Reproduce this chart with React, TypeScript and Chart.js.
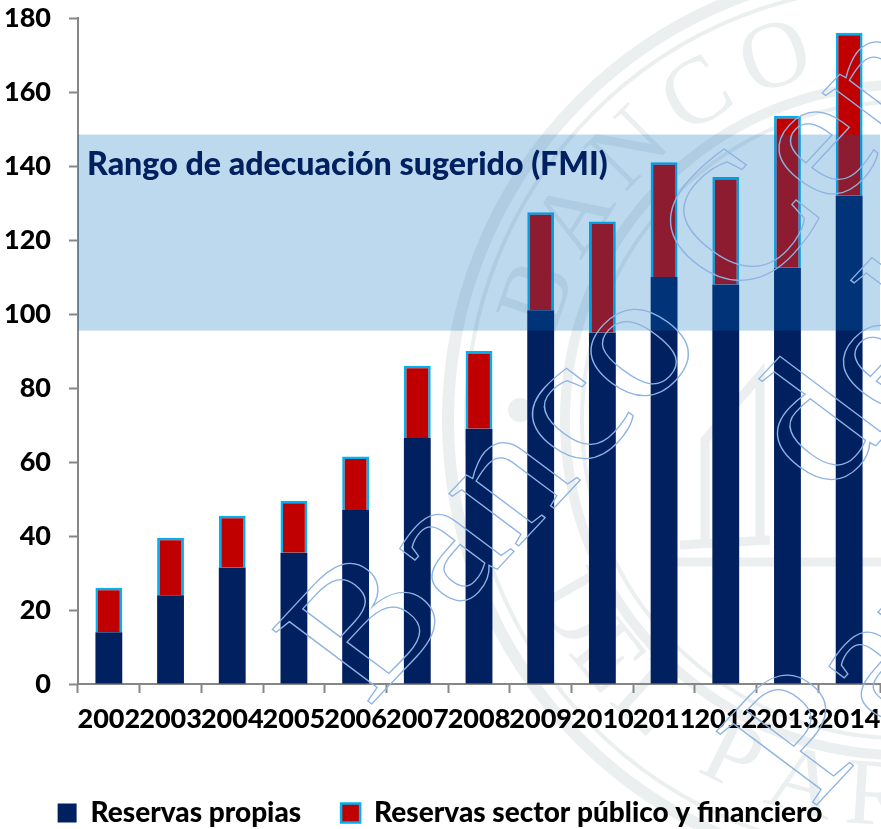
import React, { useEffect, useRef } from "react";
import { Chart, registerables } from "chart.js";

Chart.register(...registerables);

const years = ["2002","2003","2004","2005","2006","2007","2008","2009","2010","2011","2012","2013","2014"];
const reservasPropias = [14, 24, 31.5, 35.5, 47, 66.5, 69, 101, 95, 110, 108, 112.5, 132];
const reservasSector = [12, 15.5, 14, 14, 14.5, 19.5, 21, 26.5, 30, 31, 29, 41, 44];
const bandRange = [95.5, 148.5];
const bandLabel = "Rango de adecuación sugerido (FMI)";
const sealTop = "BANCO";
const sealBottom = "DELPARAGUAY";
const watermarkLines = [
  { text: "Banco Central", x: 368, y: 708 },
  { text: "del", x: 828, y: 497 },
  { text: "Paraguay", x: 812, y: 810 },
];

const FONT = "Lato";

const backdrop = {
  id: "backdrop",
  beforeDraw(chart: any) {
    const c = chart.ctx;
    c.save();
    const cx = 900, cy = 420;
    c.strokeStyle = "#EBEFF0";
    for (const [r, w] of [[452, 12], [434, 4], [335, 10], [318, 4]]) {
      c.lineWidth = w;
      c.beginPath();
      c.arc(cx, cy, r, 0, Math.PI * 2);
      c.stroke();
    }
    c.fillStyle = "#EBEFF0";
    c.font = "95px 'Liberation Serif'";
    c.textAlign = "center";
    c.textBaseline = "middle";
    [...sealTop].forEach((ch, i) => {
      const a = ((199 + i * 13) * Math.PI) / 180;
      c.save();
      c.translate(cx + 380 * Math.cos(a), cy + 380 * Math.sin(a));
      c.rotate(a + Math.PI / 2);
      c.fillText(ch, 0, 0);
      c.restore();
    });
    [...sealBottom].forEach((ch, i) => {
      const deg = i < 3 ? 150 - i * 9 : 116.5 - (i - 3) * 11.5;
      const a = (deg * Math.PI) / 180;
      c.save();
      c.translate(cx + 380 * Math.cos(a), cy + 380 * Math.sin(a));
      c.rotate(a - Math.PI / 2);
      c.fillText(ch, 0, 0);
      c.restore();
    });
    c.lineWidth = 9;
    c.beginPath();
    c.moveTo(660, 562); c.lineTo(881, 562);
    c.moveTo(705, 540); c.lineTo(705, 440); c.lineTo(760, 375); c.lineTo(760, 540);
    c.moveTo(680, 545); c.lineTo(770, 540);
    c.stroke();
    c.beginPath();
    c.arc(520, 410, 12, 0, Math.PI * 2);
    c.fill();
    c.restore();
  },
};

const band = {
  id: "band",
  afterDatasetsDraw(chart: any) {
    const c = chart.ctx;
    const y = chart.scales.y;
    const a = chart.chartArea;
    const top = y.getPixelForValue(bandRange[1]);
    const bottom = y.getPixelForValue(bandRange[0]);
    c.save();
    c.fillStyle = "rgba(0,108,188,0.26)";
    c.fillRect(a.left, top, a.right - a.left, bottom - top);
    c.fillStyle = "#002060";
    c.font = `900 32.2px ${FONT}`;
    c.textAlign = "left";
    c.textBaseline = "middle";
    c.fillText(bandLabel, a.left + 9, y.getPixelForValue(140.5));
    c.restore();
  },
  afterDraw(chart: any) {
    const c = chart.ctx;
    c.save();
    c.strokeStyle = "#8DB3E2";
    c.lineWidth = 1.3;
    c.font = "190px 'Liberation Serif'";
    c.textAlign = "left";
    c.textBaseline = "alphabetic";
    for (const l of watermarkLines) {
      c.save();
      c.transform(0.68 * 1.03, -0.73 * 1.03, 0.8, 0.6, l.x, l.y);
      c.strokeText(l.text, 0, 0);
      c.restore();
    }
    c.restore();
  },
};

export default function App() {
  const ref = useRef<HTMLCanvasElement>(null);
  useEffect(() => {
    document.body.style.margin = "0";
    const chart = new Chart(ref.current!, {
      type: "bar",
      data: {
        labels: years,
        datasets: [
          { label: "Reservas propias", data: reservasPropias, backgroundColor: "#002060", borderWidth: 0, stack: "a" },
          { label: "Reservas sector público y financiero", data: reservasSector, backgroundColor: "#C00000", borderColor: "#00B0F0", borderWidth: 2.5, stack: "a" },
        ],
      },
      options: {
        animation: false,
        responsive: false,
        layout: { padding: { top: 18, right: 1, bottom: -8, left: 0 } },
        datasets: { bar: { barPercentage: 1, categoryPercentage: 0.435 } },
        scales: {
          x: {
            stacked: true,
            afterFit: (s: any) => { s.height = 75; s.paddingLeft = 0; s.paddingRight = 0; },
            grid: { drawOnChartArea: false, drawTicks: true, tickLength: 9, tickColor: "#868686", tickWidth: 2, offset: true },
            border: { color: "#868686", width: 2 },
            ticks: { color: "#000", font: { family: FONT, size: 27, weight: 900 }, maxRotation: 0, autoSkip: false, padding: 10 },
          },
          y: {
            stacked: true,
            min: 0,
            max: 180,
            afterFit: (s: any) => { s.width = 78; s.paddingTop = 0; s.paddingBottom = 0; },
            grid: { drawOnChartArea: false, drawTicks: true, tickLength: 9, tickColor: "#868686", tickWidth: 2 },
            border: { color: "#868686", width: 2 },
            ticks: { stepSize: 20, color: "#000", font: { family: FONT, size: 27, weight: 900 }, padding: 18 },
          },
        },
        plugins: {
          title: { display: false },
          tooltip: { enabled: false },
          legend: {
            position: "bottom",
            labels: { boxWidth: 19, boxHeight: 19, padding: 40, color: "#000", font: { family: FONT, size: 28, weight: 900 } },
          },
        },
      },
      plugins: [backdrop, band],
    } as any);
    return () => chart.destroy();
  }, []);
  return <canvas ref={ref} width={881} height={829} style={{ display: "block" }} />;
}
